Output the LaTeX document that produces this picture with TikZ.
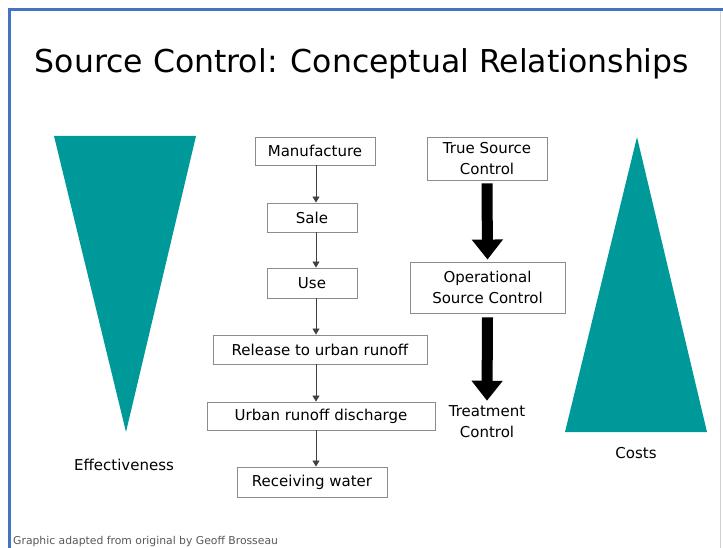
\documentclass[tikz,border=0pt]{standalone}
\usepackage{fontspec}
\setmainfont{DejaVu Sans}
\usetikzlibrary{arrows.meta}
\definecolor{wedgefill}{RGB}{0,153,153}
\definecolor{frameblue}{RGB}{70,114,196}
\definecolor{boxline}{RGB}{140,140,140}
\newcommand{\boxfont}{\fontsize{15}{21}\selectfont}
\tikzset{
  stepbox/.style={draw=boxline, line width=0.9pt, inner sep=0pt, align=center, font=\boxfont},
  plainlabel/.style={inner sep=1pt, align=center, font=\boxfont},
  flow/.style={draw=black!75, line width=0.8pt, -{Triangle[length=6pt,width=7pt]}},
  bigarrow/.style={draw=black, line width=11pt, -{Triangle[length=20pt,width=30pt]}},
  wedge/.style={fill=wedgefill},
}

\begin{document}
\begin{tikzpicture}[x=1pt,y=-1pt]
    \useasboundingbox (0,0) rectangle (723,548);
    \fill[white] (0,0) rectangle (723,548);

    % slide frame
    \draw[boxline!40, line width=1pt] (720,10) -- (720,548);
    \draw[frameblue, line width=2.5pt] (9.5,548) -- (9.5,9.5) -- (723,9.5);

    \node[anchor=base, font=\fontsize{31.5}{36}\selectfont] (title) at (362,73)
        {Source Control: Conceptual Relationships};

    % wedges
    \fill[wedge] (54,136) -- (196,136) -- (126,432) -- cycle;
    \fill[wedge] (637,137) -- (707,432) -- (565,432) -- cycle;
    \node[plainlabel] (eff) at (124,465) {Effectiveness};
    \node[plainlabel] (cost) at (636,453) {Costs};

    % product life chain
    \coordinate (spine) at (316,0);
    \node[stepbox, minimum width=120pt, minimum height=28pt] (man) at (315,151) {Manufacture};
    \node[stepbox, minimum width=90pt, minimum height=29pt] (sale) at (312,217.5) {Sale};
    \node[stepbox, minimum width=90pt, minimum height=30pt] (use) at (312,283) {Use};
    \node[stepbox, minimum width=214pt, minimum height=29pt] (rel) at (320,349.5) {Release to urban runoff};
    \node[stepbox, minimum width=228pt, minimum height=28pt] (dis) at (321,416) {Urban runoff discharge};
    \node[stepbox, minimum width=150pt, minimum height=30pt] (rec) at (312,482) {Receiving water};

    \draw[flow] (man.south -| spine) -- (sale.north -| spine);
    \draw[flow] (sale.south -| spine) -- (use.north -| spine);
    \draw[flow] (use.south -| spine) -- (rel.north -| spine);
    \draw[flow] (rel.south -| spine) -- (dis.north -| spine);
    \draw[flow] (dis.south -| spine) -- (rec.north -| spine);

    % control hierarchy
    \node[stepbox, minimum width=120pt, minimum height=43pt] (tsc) at (487,158.5) {True Source\\Control};
    \node[stepbox, minimum width=155pt, minimum height=51pt] (osc) at (487.5,287.5) {Operational\\Source Control};
    \node[plainlabel] (treat) at (487,422) {Treatment\\Control};

    \draw[bigarrow] ([yshift=-3pt]tsc.south) -- ([yshift=2pt]osc.north);
    \draw[bigarrow] ([yshift=-4pt]osc.south) -- ([yshift=4pt]treat.north);

    \node[anchor=west, inner sep=0pt, text=black!65, font=\fontsize{10.8}{12}\selectfont] (credit) at (13,542)
        {Graphic adapted from original by Geoff Brosseau};
\end{tikzpicture}
\end{document}
